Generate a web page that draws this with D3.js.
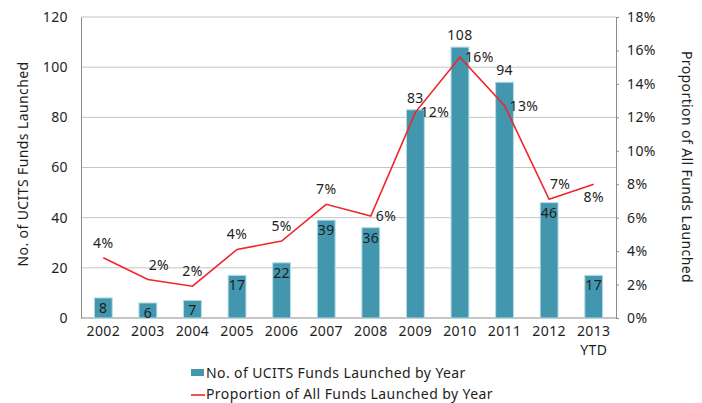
<!DOCTYPE html>
<html>
<head>
<meta charset="utf-8">
<script src="https://cdn.jsdelivr.net/npm/d3@7"></script>
<style>
  body { margin: 0; background: #fff; }
  text { font-family: "Noto Sans", sans-serif; fill: #1e1e1e; letter-spacing: 0.4px; }
</style>
</head>
<body>
<svg id="chart" width="702" height="403"></svg>
<script>
// data
const years = ['2002', '2003', '2004', '2005', '2006', '2007', '2008', '2009', '2010', '2011', '2012', '2013\nYTD'];
const fundsLaunched = [8, 6, 7, 17, 22, 39, 36, 83, 108, 94, 46, 17];
const proportion = [3.6, 2.3, 1.9, 4.1, 4.6, 6.8, 6.1, 12.3, 15.6, 12.7, 7.1, 8.0];
const proportionLabels = ['4%', '2%', '2%', '4%', '5%', '7%', '6%', '12%', '16%', '13%', '7%', '8%'];
const countTicks = [0, 20, 40, 60, 80, 100, 120];
const pctTicks = [0, 2, 4, 6, 8, 10, 12, 14, 16, 18];
// where excel put each label
const barLabelPos = ['in', 'in', 'in', 'in', 'in', 'in', 'in', 'out', 'out', 'out', 'in', 'in'];
const pctLabelPos = ['above', 'aboveR', 'above', 'above', 'above', 'above', 'right', 'right', 'right', 'right', 'aboveR', 'below'];

const svg = d3.select('#chart');
const plotL = 81, plotR = 616, plotT = 17, plotB = 318;

const x = d3.scaleBand().domain(years).range([plotL, plotR]).paddingInner(0.6).paddingOuter(0.3);
const yL = d3.scaleLinear().domain([0, 120]).range([plotB, plotT]);
const yR = d3.scaleLinear().domain([0, 18]).range([plotB, plotT]);

// 网格线
svg.append('g')
    .selectAll('line')
    .data(countTicks.slice(1))
    .join('line')
    .attr('x1', plotL).attr('x2', plotR)
    .attr('y1', d => yL(d)).attr('y2', d => yL(d))
    .attr('stroke', '#c4c4c4').attr('stroke-width', 1);

// left axis
const gL = svg.append('g').attr('transform', `translate(${plotL},0)`)
    .call(d3.axisLeft(yL).tickValues(countTicks).tickSize(0).tickPadding(13));
gL.select('.domain').attr('stroke', '#8c8c8c');
gL.selectAll('text').style('font-size', '14px').attr('fill', '#1e1e1e');

// right axis
const gR = svg.append('g').attr('transform', `translate(${plotR},0)`)
    .call(d3.axisRight(yR).tickValues(pctTicks).tickSize(3).tickPadding(8).tickFormat(d => d + '%'));
gR.select('.domain').attr('stroke', '#8c8c8c');
gR.selectAll('line').attr('stroke', '#8c8c8c');
gR.selectAll('text').style('font-size', '14px').attr('fill', '#1e1e1e');

// bottom axis
svg.append('line')
    .attr('x1', plotL).attr('x2', plotR)
    .attr('y1', plotB).attr('y2', plotB)
    .attr('stroke', '#8c8c8c');

// x labels, second line ("YTD") as its own text
svg.append('g').selectAll('g')
    .data(years)
    .join('g')
    .attr('transform', d => `translate(${x(d) + x.bandwidth() / 2},0)`)
    .each(function (d) {
        d3.select(this).selectAll('text')
            .data(d.split('\n'))
            .join('text')
            .attr('y', (p, i) => 336 + i * 19)
            .attr('text-anchor', 'middle')
            .style('font-size', '14px')
            .text(p => p);
    });

// bars
svg.append('g').selectAll('rect')
    .data(fundsLaunched)
    .join('rect')
    .attr('x', (d, i) => x(years[i]))
    .attr('y', d => yL(d))
    .attr('width', x.bandwidth())
    .attr('height', d => plotB - yL(d))
    .attr('fill', '#4296ae')
    .attr('stroke', '#b5dbe5')
    .attr('stroke-width', 1);

svg.append('g').selectAll('text')
    .data(fundsLaunched)
    .join('text')
    .attr('x', (d, i) => x(years[i]) + x.bandwidth() / 2)
    .attr('y', (d, i) => barLabelPos[i] === 'in' ? yL(d) + 15 : yL(d) - 7)
    .attr('text-anchor', 'middle')
    .style('font-size', '14px')
    .text(d => d);

// line
const cx = i => x(years[i]) + x.bandwidth() / 2;
svg.append('path')
    .datum(proportion)
    .attr('d', d3.line().x((d, i) => cx(i)).y(d => yR(d)))
    .attr('fill', 'none')
    .attr('stroke', '#f0252d')
    .attr('stroke-width', 1.6);

svg.append('g').selectAll('text')
    .data(proportion)
    .join('text')
    .attr('x', (d, i) => {
        const p = pctLabelPos[i];
        if (p === 'right') return cx(i) + 5;
        if (p === 'aboveR') return cx(i) + 11;
        return cx(i);
    })
    .attr('y', (d, i) => {
        const p = pctLabelPos[i];
        if (p === 'right') return yR(d) + 5;
        if (p === 'below') return yR(d) + 18;
        return yR(d) - 10;
    })
    .attr('text-anchor', (d, i) => pctLabelPos[i] === 'right' ? 'start' : 'middle')
    .style('font-size', '14px')
    .text((d, i) => proportionLabels[i]);

// axis titles
svg.append('text')
    .attr('transform', 'translate(28,164) rotate(-90)')
    .attr('text-anchor', 'middle')
    .style('font-size', '14px')
    .text('No. of UCITS Funds Launched');
svg.append('text')
    .attr('transform', 'translate(682,167) rotate(90)')
    .attr('text-anchor', 'middle')
    .style('font-size', '14px')
    .text('Proportion of All Funds Launched');

// legend
const lg = svg.append('g');
lg.append('rect').attr('x', 191).attr('y', 369).attr('width', 13).attr('height', 7).attr('fill', '#4296ae');
lg.append('text').attr('x', 206).attr('y', 378).style('font-size', '14px').text('No. of UCITS Funds Launched by Year');
lg.append('line').attr('x1', 191).attr('x2', 205).attr('y1', 395).attr('y2', 395).attr('stroke', '#f0252d').attr('stroke-width', 1.6);
lg.append('text').attr('x', 206).attr('y', 399).style('font-size', '14px').text('Proportion of All Funds Launched by Year');
</script>
</body>
</html>
